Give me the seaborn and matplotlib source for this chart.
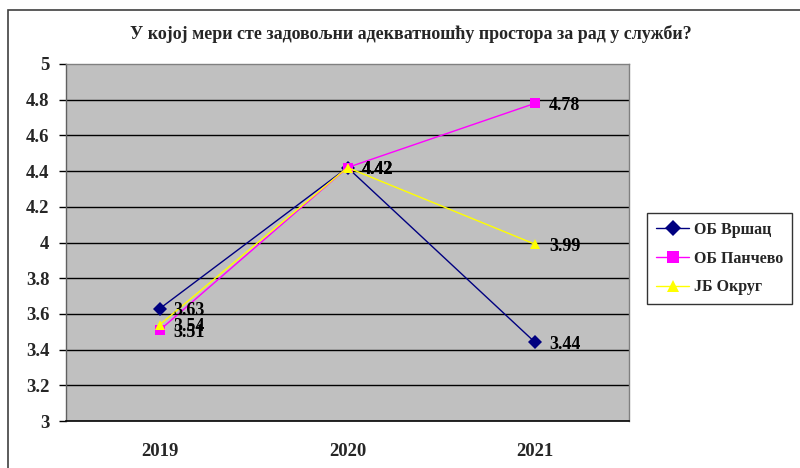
import matplotlib
matplotlib.use("Agg")
import matplotlib.pyplot as plt
import seaborn as sns
import pandas as pd
from matplotlib.patches import Rectangle
from matplotlib.lines import Line2D

years = ["2019", "2020", "2021"]
series = ["ОБ Вршац", "ОБ Панчево", "ЈБ Округ"]
vrsac = [3.63, 4.42, 3.44]
pancevo = [3.51, 4.42, 4.78]
okrug = [3.54, 4.42, 3.99]
title = "У којој мери сте задовољни адекватношћу простора за рад у служби?"

rows = []
for name, vals in zip(series, [vrsac, pancevo, okrug]):
    for y, v in zip(years, vals):
        rows.append({"year": y, "value": v, "series": name})
df = pd.DataFrame(rows)

sns.set_style("white")
plt.rcParams['font.family'] = ['Liberation Serif', 'DejaVu Serif']
plt.rcParams['font.weight'] = 'bold'

fig = plt.figure(figsize=(8, 4.68), dpi=100)
W, H = 800, 468
ax = fig.add_axes([66 / W, 1 - 421 / H, (629 - 66) / W, (421 - 64) / H])
ax.set_facecolor("#c0c0c0")

palette = {series[0]: "#000080", series[1]: "#ff00ff", series[2]: "#ffff00"}
markers = {series[0]: "D", series[1]: "s", series[2]: "^"}

for yv in [3.2 + 0.2 * i for i in range(9)]:
    ax.axhline(yv, color="black", lw=1, zorder=1)

sns.lineplot(data=df, x="year", y="value", hue="series", style="series",
             palette=palette, markers=markers, dashes=False, lw=1,
             markersize=7, markeredgewidth=0, ax=ax, sort=False, zorder=3,
             legend=False)

for name, vals in zip(series, [vrsac, pancevo, okrug]):
    for i, v in enumerate(vals):
        ax.annotate(f"{v:.2f}", (i, v), xytext=(10, -1.5), textcoords="offset points",
                    ha="left", va="center", fontsize=13, fontweight="bold",
                    color="black", zorder=5)

ax.set_xlim(-0.5, 2.5)
ax.set_ylim(3, 5)
ax.set_yticks([3 + 0.2 * i for i in range(11)])
ax.set_yticklabels(["3", "3.2", "3.4", "3.6", "3.8", "4", "4.2", "4.4", "4.6", "4.8", "5"])
ax.set_xticks([0, 1, 2])
ax.set_xticklabels(years)
ax.set_xticks([0.5, 1.5], minor=True)
ax.tick_params(axis="x", which="major", length=0, pad=16, labelsize=13.5)
ax.tick_params(axis="x", which="minor", length=5, width=1, color="black", direction="out")
ax.tick_params(axis="y", which="major", length=5, width=1, color="black", direction="out",
               labelsize=13.5, pad=7, left=True)
for lab in ax.get_xticklabels() + ax.get_yticklabels():
    lab.set_fontweight("bold")
ax.set_xlabel("")
ax.set_ylabel("")
for s in ["top", "right", "left"]:
    ax.spines[s].set_color("#808080")
    ax.spines[s].set_linewidth(1)
ax.spines["left"].set_color("#606060")
ax.spines["bottom"].set_color("black")
ax.spines["bottom"].set_linewidth(1.2)

fig.text(411 / W, 1 - 34 / H, title, ha="center", va="center",
         fontsize=13, fontweight="bold")

# figure border
fig.patches.append(Rectangle((8 / W, -0.1), 1.2, 1 - 10 / H + 0.1, transform=fig.transFigure,
                             fill=False, edgecolor="#404040", lw=1.2))

handles = [Line2D([0], [0], color=palette[n], marker=markers[n], lw=1,
                  markersize=8, markeredgewidth=0) for n in series]
leg = fig.legend(handles, series, loc="upper left",
                 bbox_to_anchor=(647 / W, 1 - 213 / H), frameon=True,
                 fancybox=False, prop={"weight": "bold", "size": 11.5},
                 handlelength=2.1, handletextpad=0.3, labelspacing=0.8,
                 borderpad=0.55, borderaxespad=0)
leg.get_frame().set_edgecolor("black")
leg.get_frame().set_linewidth(1)

fig.savefig("out.png", dpi=100)
